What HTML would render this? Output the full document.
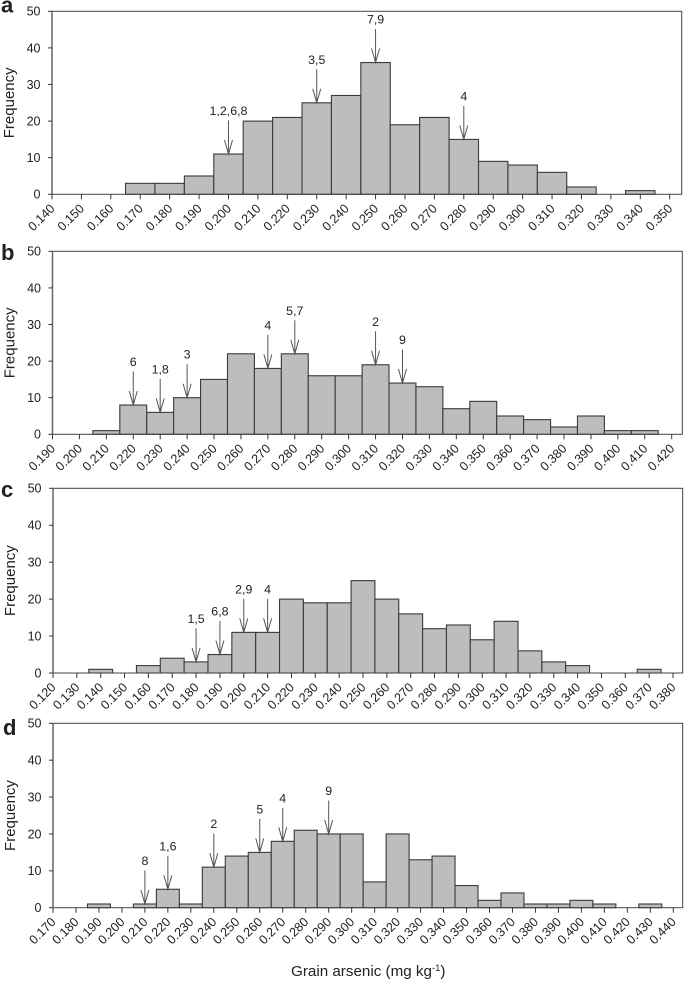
<!DOCTYPE html>
<html lang="en">
<head>
<meta charset="utf-8">
<title>Grain arsenic histograms</title>
<style>
html,body{margin:0;padding:0;background:#fff;width:685px;height:982px;overflow:hidden}
svg{display:block}
text{font-family:"Liberation Sans",sans-serif;fill:#222}
</style>
</head>
<body>
<svg id="chart" xmlns="http://www.w3.org/2000/svg" width="685" height="982" viewBox="0 0 685 982">
  <text x="291" y="976" font-size="15.2">Grain arsenic (mg kg<tspan dy="-5" font-size="9.5">-1</tspan><tspan dy="5">)</tspan></text>
</svg>
<script>
var yTicks = [0, 10, 20, 30, 40, 50];

var aStart = 0.14;
var aCounts = [0,0,0,3,3,5,11,20,21,25,27,36,19,21,15,9,8,6,2,0,1,0];
var aMarkerBins = [0.20,0.23,0.25,0.28];
var aMarkerLabels = ["1,2,6,8","3,5","7,9","4"];

var bStart = 0.19;
var bCounts = [0,0,1,8,6,10,15,22,18,22,16,16,19,14,13,7,9,5,4,2,5,1,1,0];
var bMarkerBins = [0.22,0.23,0.24,0.27,0.28,0.31,0.32];
var bMarkerLabels = ["6","1,8","3","4","5,7","2","9"];

var cStart = 0.12;
var cCounts = [0,0,1,0,2,4,3,5,11,11,20,19,19,25,20,16,12,13,9,14,6,3,2,0,0,1,0];
var cMarkerBins = [0.18,0.19,0.20,0.21];
var cMarkerLabels = ["1,5","6,8","2,9","4"];

var dStart = 0.17;
var dCounts = [0,0,1,0,1,5,1,11,14,15,18,21,20,20,7,20,13,14,6,2,4,1,1,2,1,0,1,0];
var dMarkerBins = [0.21,0.22,0.24,0.26,0.27,0.29];
var dMarkerLabels = ["8","1,6","2","5","4","9"];

var NS = "http://www.w3.org/2000/svg";
var root = document.getElementById("chart");

function make(parent, tag, attrs, txt) {
  var el = document.createElementNS(NS, tag);
  for (var k in attrs) el.setAttribute(k, attrs[k]);
  if (txt !== undefined) el.textContent = txt;
  parent.appendChild(el);
  return el;
}

function drawPanel(id, start, counts, markerBins, markerLabels, box) {
  var g = make(root, "g", {});
  
  

  var n = counts.length;
  var step = (box.lastTick - box.left) / (n - 1);
  function xBin(i) { return box.left + i * step; }
  function xVal(v) { return xBin((v - start) / 0.01); }
  function yVal(v) { return box.bottom - (v / 50) * (box.bottom - box.top); }

  var letter = make(g, "text", {x: box.letterX, y: box.letterY, "font-size": 22, "font-weight": "bold", fill: "#111"}, id);
  
  

  var ylab = make(g, "text", {
    transform: "translate(" + (box.left - 38) + "," + ((box.top + box.bottom) / 2) + ") rotate(-90)",
    "text-anchor": "middle", "font-size": 15
  }, "Frequency");
  
  

  counts.forEach(function (c, i) {
    if (c <= 0) return;
    var bar = make(g, "rect", {
      x: xBin(i) - step / 2, y: yVal(c), width: step, height: box.bottom - yVal(c),
      fill: "#bdbdbd", stroke: "#3a3a3a", "stroke-width": 1.1
    });
    
    
  });

  var frame = make(g, "rect", {
    x: box.left, y: box.top, width: box.right - box.left, height: box.bottom - box.top,
    fill: "none", stroke: "#444", "stroke-width": 1
  });
  
  

  var yAxis = make(g, "line", {x1: box.left, x2: box.left, y1: box.top, y2: box.bottom, stroke: "#666", "stroke-width": 1.5});
  
  

  yTicks.forEach(function (t) {
    var tick = make(g, "line", {x1: box.left - 4, x2: box.left, y1: yVal(t), y2: yVal(t), stroke: "#333", "stroke-width": 1});
    
    
    var lab = make(g, "text", {x: box.left - 11.5, y: yVal(t) + 4.4, "text-anchor": "end", "font-size": 12.5}, String(t));
    
    
  });

  counts.forEach(function (c, i) {
    var x = xBin(i);
    var tick = make(g, "line", {x1: x, x2: x, y1: box.bottom, y2: box.bottom + 5, stroke: "#333", "stroke-width": 1});
    
    
    var lab = make(g, "text", {
      transform: "translate(" + (x + 3.5) + "," + (box.bottom + 15) + ") rotate(-45)",
      "text-anchor": "end", "font-size": 12.6
    }, (start + i * 0.01).toFixed(3));
    
    
  });

  markerBins.forEach(function (v, j) {
    var idx = Math.round((v - start) / 0.01);
    var x = xVal(v);
    var tip = yVal(counts[idx]);
    var top = tip - 33.5;
    var arrow = make(g, "path", {
      d: "M" + x + " " + top + "V" + tip + "M" + (x - 4) + " " + (tip - 14) + "L" + x + " " + tip + "L" + (x + 4) + " " + (tip - 14),
      fill: "none", stroke: "#555", "stroke-width": 1
    });
    
    
    var lab = make(g, "text", {x: x, y: top - 5.5, "text-anchor": "middle", "font-size": 12.4}, markerLabels[j]);
    
    
  });
}

drawPanel("a", aStart, aCounts, aMarkerBins, aMarkerLabels, {left: 52, right: 681.7, top: 11.3, bottom: 194.3, lastTick: 669.7, letterX: 1, letterY: 12.5});
drawPanel("b", bStart, bCounts, bMarkerBins, bMarkerLabels, {left: 52.5, right: 682.3, top: 251.3, bottom: 434.3, lastTick: 671.7, letterX: 1, letterY: 260});
drawPanel("c", cStart, cCounts, cMarkerBins, cMarkerLabels, {left: 53, right: 682.7, top: 488.3, bottom: 673, lastTick: 673, letterX: 1, letterY: 497});
drawPanel("d", dStart, dCounts, dMarkerBins, dMarkerLabels, {left: 53, right: 682.7, top: 723.3, bottom: 907.7, lastTick: 673.3, letterX: 3, letterY: 735});
</script>
</body>
</html>
